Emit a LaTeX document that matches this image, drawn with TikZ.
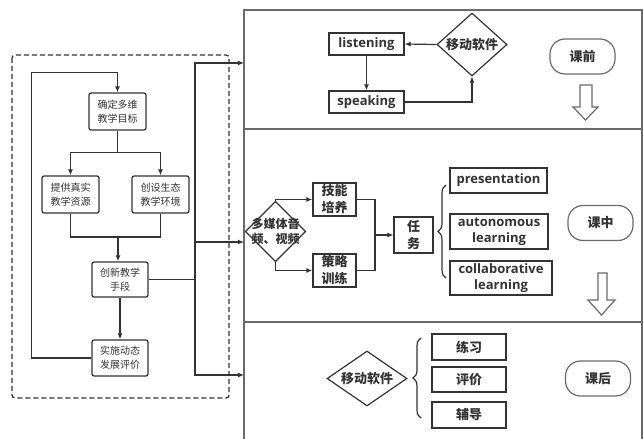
\documentclass[tikz,border=0pt]{standalone}
\usepackage{fontspec}
\newfontfamily\cjk{Noto Sans CJK SC}
\newfontfamily\lat{Open Sans}
\usetikzlibrary{shapes.geometric,arrows.meta,decorations.pathreplacing}
\definecolor{ink}{HTML}{333333}
\definecolor{rule}{HTML}{6A6A6A}

\begin{document}
\begin{tikzpicture}[x=1pt,y=-1pt,color=ink,line width=1.2pt,
  >={Latex[length=6pt,width=5pt]},
  lbox/.style={draw,line width=1.3pt,rounded corners=2pt,minimum width=57pt,
    minimum height=37pt,inner sep=1pt,align=center,
    font=\cjk\fontsize{10}{14}\selectfont},
  cbox/.style={draw,inner sep=1pt,align=center,
    font=\cjk\bfseries\fontsize{13}{17}\selectfont},
  ebox/.style={draw,inner sep=1pt,align=center,
    font=\lat\bfseries\fontsize{13}{16}\selectfont},
  choice/.style={diamond,draw,inner sep=0pt,align=center,
    font=\cjk\bfseries\fontsize{13}{16}\selectfont},
  stage/.style={draw=rule,rounded corners=15pt,minimum width=65pt,
    minimum height=35pt,font=\cjk\bfseries\fontsize{13}{16}\selectfont},
  hollow/.style={draw=rule,line join=miter},
  panel/.style={draw=rule,line width=1.3pt}]

  \useasboundingbox (0,0) rectangle (643,439);

  % left frame
  \draw[dash pattern=on 5pt off 3pt, line width=1.3pt, rounded corners=3pt] (12,55) rectangle (229,398);

  \node[lbox] (goal) at (117.5,111.5) {确定多维\\教学目标};
  \node[lbox] (res) at (70.5,194.5) {提供真实\\教学资源};
  \node[lbox] (env) at (160.5,194.5) {创设生态\\教学环境};
  \node[lbox, minimum width=56pt, minimum height=35pt] (means) at (120,279.5) {创新教学\\手段};
  \node[lbox, minimum width=56pt, minimum height=36pt] (eval) at (120,358) {实施动态\\发展评价};

  \draw[->] (goal.south) -- ++(0,22) -| (res.north);
  \draw[->] (goal.south) -- ++(0,22) -| (env.north);
  \coordinate (join) at (118,237);
  \draw (res.south) |- (join) -| (env.south);
  \draw[->] (join) -- (join |- means.north);
  \draw[->] (means) -- (eval);
  \draw[->] (eval.west) -- ++(-60,0) |- ([yshift=20pt]goal.north) -- (goal.north);

  % stage panel
  \draw[panel] (244,439) -- (244,10) -- (642,10) -- (642,439);
  \draw[panel] (244,129) -- (642,129);
  \draw[panel] (244,322) -- (642,322);

  \coordinate (hub) at (195,279.5);
  \coordinate (pre) at (244,63);
  \coordinate (inc) at (244,242);
  \coordinate (post) at (244,375);
  \draw (means.east) -- (hub);
  \draw[->] (hub) |- (pre);
  \draw[->] (hub) |- (inc);
  \draw[->] (hub) |- (post);

  % before class
  \node[ebox, minimum width=75pt, minimum height=22pt] (listen) at (366.5,44) {listening};
  \node[ebox, minimum width=75pt, minimum height=22pt] (speak) at (366.5,102) {speaking};
  \node[choice, shape aspect=1.1, minimum width=70pt, minimum height=63pt] (appTop) at (472,44.5) {移动软件};
  \node[stage] (before) at (582.5,56.5) {课前};

  \draw[->] (appTop.west) -- (listen.east);
  \draw[->] (listen) -- (speak);
  \draw[->] (speak.east) -| (appTop.south);
  \draw[hollow] (580,85) -- (592,85) -- (592,107) -- (598,107) -- (585.5,120) -- (573,107) -- (580,107) -- cycle;

  % in class
  \node[choice, inner sep=-3.5pt, font=\cjk\bfseries\fontsize{12}{15}\selectfont] (media) at (275.5,231.5) {多媒体音\\频、视频};
  \node[cbox, minimum width=43pt, minimum height=33pt] (skill) at (334.5,199.5) {技能\\培养};
  \node[cbox, minimum width=43pt, minimum height=33pt] (drill) at (334.5,270.5) {策略\\训练};
  \node[cbox, minimum width=39pt, minimum height=36pt] (task) at (413.5,235) {任\\务};
  \node[ebox, minimum width=97pt, minimum height=25pt] (pres) at (498.5,180.5) {presentation};
  \node[ebox, minimum width=98pt, minimum height=35pt] (auto) at (499,231.5) {autonomous\\learning};
  \node[ebox, minimum width=102pt, minimum height=34pt] (collab) at (501,278) {collaborative\\learning};
  \node[stage] (during) at (600.5,223) {课中};

  \draw[->] (media.north) |- (skill.west);
  \draw[->] (media.south) |- (drill.west);
  \coordinate (merge) at (375,235);
  \draw (skill.east) -| (merge);
  \draw (drill.east) -| (merge);
  \draw[->] (merge) -- (task.west);
  \draw[decorate, decoration={brace, amplitude=8pt}] (446,278) -- (446,185);
  \draw[hollow] (598,273) -- (607,273) -- (607,300) -- (615,300) -- (601.5,315) -- (588,300) -- (598,300) -- cycle;

  % after class
  \node[choice, shape aspect=1.45, minimum width=80pt, minimum height=55pt] (appPost) at (367,378.5) {移动软件};
  \node[cbox, minimum width=74pt, minimum height=26pt] (practice) at (469,347) {练习};
  \node[cbox, minimum width=74pt, minimum height=25pt] (review) at (469,379.5) {评价};
  \node[cbox, minimum width=74pt, minimum height=26pt] (coach) at (469,415) {辅导};
  \node[stage] (after) at (598,378.5) {课后};

  \draw[decorate, decoration={brace, amplitude=8pt}] (421,418) -- (421,338);
\end{tikzpicture}
\end{document}
